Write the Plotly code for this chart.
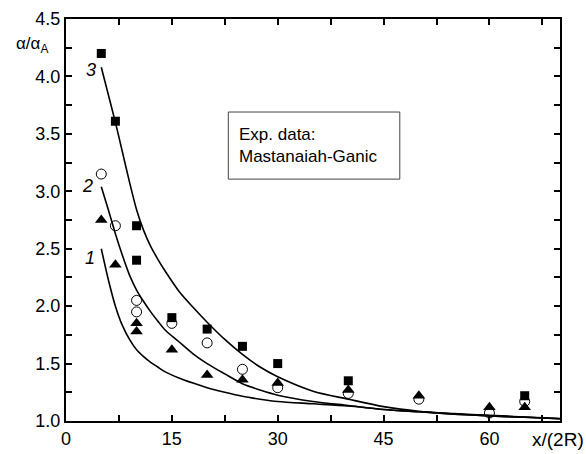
import plotly.graph_objects as go

# Experimental data (Mastanaiah-Ganic)
sq_x = [5, 7, 10, 10, 15, 20, 25, 30, 40, 65]
sq_y = [4.20, 3.61, 2.70, 2.40, 1.90, 1.80, 1.65, 1.50, 1.35, 1.22]

ci_x = [5, 7, 10, 10, 15, 20, 25, 30, 40, 50, 60, 65]
ci_y = [3.15, 2.70, 2.05, 1.95, 1.85, 1.68, 1.45, 1.29, 1.24, 1.19, 1.07, 1.17]

tr_x = [5, 7, 10, 10, 15, 20, 25, 30, 40, 50, 60, 65]
tr_y = [2.75, 2.36, 1.85, 1.78, 1.62, 1.40, 1.36, 1.33, 1.27, 1.22, 1.12, 1.12]

# Calculated curves 1, 2, 3
cx = [5, 6, 7, 8, 9, 10, 11, 12, 13, 14, 16, 18, 20, 22.5, 25, 27.5, 30, 35, 40, 45, 50, 55, 60, 65, 70]
c3 = [4.08, 3.84, 3.60, 3.34, 3.08, 2.84, 2.66, 2.52, 2.41, 2.31, 2.13, 1.99, 1.86, 1.71, 1.58, 1.47,
      1.385, 1.26, 1.19, 1.125, 1.085, 1.065, 1.05, 1.035, 1.022]
c2 = [3.04, 2.84, 2.63, 2.44, 2.27, 2.14, 2.04, 1.95, 1.87, 1.795, 1.69, 1.585, 1.50, 1.41, 1.325, 1.27,
      1.225, 1.17, 1.135, 1.10, 1.08, 1.06, 1.045, 1.032, 1.02]
c1 = [2.50, 2.23, 2.00, 1.83, 1.71, 1.62, 1.56, 1.51, 1.47, 1.43, 1.375, 1.33, 1.29, 1.25, 1.215, 1.19,
      1.17, 1.15, 1.13, 1.10, 1.08, 1.06, 1.045, 1.032, 1.02]

curve_labels = ["1", "2", "3"]
label_x = [3.4, 3.0, 3.6]
label_y = [2.42, 3.05, 4.06]

x_ticks = [0, 15, 30, 45, 60]
y_ticks = [1.0, 1.5, 2.0, 2.5, 3.0, 3.5, 4.0, 4.5]

FONT = "Liberation Sans, Arial, sans-serif"

fig = go.Figure()
for cy in (c1, c2, c3):
    fig.add_trace(go.Scatter(x=cx, y=cy, mode="lines",
                             line=dict(color="black", width=1.6, shape="spline", smoothing=0.8),
                             showlegend=False, hoverinfo="skip"))

fig.add_trace(go.Scatter(x=sq_x, y=sq_y, mode="markers",
                         marker=dict(symbol="square", size=9, color="black"), showlegend=False))
fig.add_trace(go.Scatter(x=ci_x, y=ci_y, mode="markers",
                         marker=dict(symbol="circle-open", size=10, color="black", line=dict(width=1)),
                         showlegend=False))
fig.add_trace(go.Scatter(x=tr_x, y=tr_y, mode="markers",
                         marker=dict(symbol="triangle-up", size=11, color="black"), showlegend=False))

for t, lx, ly in zip(curve_labels, label_x, label_y):
    fig.add_annotation(x=lx, y=ly, text="<i>" + t + "</i>", showarrow=False,
                       font=dict(family=FONT, size=18, color="black"))

# legend box
fig.add_shape(type="rect", xref="x", yref="y", x0=23.0, x1=47.3, y0=3.106, y1=3.69,
              line=dict(color="#444", width=1), fillcolor="white", layer="below")
fig.add_annotation(x=24.2, y=3.40, xref="x", yref="y", xanchor="left", align="left",
                   text="Exp. data:<br>Mastanaiah-Ganic", showarrow=False,
                   font=dict(family=FONT, size=17, color="black"))

# axis titles
fig.add_annotation(xref="paper", yref="paper", x=-0.106, y=0.935, xanchor="left", yanchor="middle",
                   text="α/α<sub>A</sub>", showarrow=False,
                   font=dict(family=FONT, size=17, color="black"))
fig.add_annotation(xref="paper", yref="paper", x=1.052, y=-0.047, xanchor="right", yanchor="middle",
                   text="x/(2R)", showarrow=False,
                   font=dict(family=FONT, size=19, color="black"))

axis_common = dict(showgrid=False, zeroline=False, showline=True, linecolor="black", linewidth=2,
                   mirror="ticks", ticks="inside", ticklen=6, tickwidth=1.5, tickcolor="black",
                   tickfont=dict(family=FONT, size=18, color="black"))

fig.update_xaxes(range=[0, 70], tickvals=x_ticks, ticktext=[str(v) for v in x_ticks],
                 minor=dict(dtick=7.5, tick0=0, ticks="inside", ticklen=6, tickwidth=1.5, tickcolor="black"),
                 **axis_common)
fig.update_yaxes(range=[1.0, 4.5], tickvals=y_ticks, ticktext=[f"{v:.1f}" for v in y_ticks],
                 minor=dict(dtick=0.25, tick0=1.0, ticks="inside", ticklen=6, tickwidth=1.5, tickcolor="black"),
                 **axis_common)

fig.update_layout(width=586, height=454, margin=dict(l=66, r=26, t=19, b=33, autoexpand=False),
                  plot_bgcolor="white", paper_bgcolor="white", font=dict(family=FONT))

fig.write_html("out.html", config={"displayModeBar": False},
               post_script="document.body.style.margin='0';document.body.style.overflow='hidden';")
